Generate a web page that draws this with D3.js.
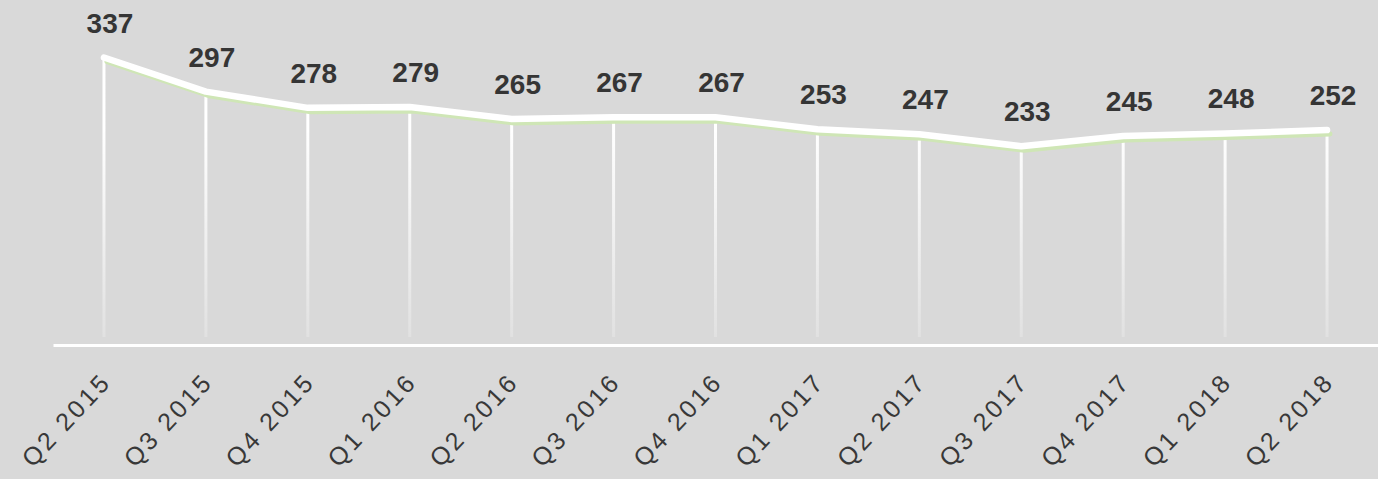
<!DOCTYPE html>
<html lang="en">
<head>
    <meta charset="UTF-8">
    <title>Quarterly values</title>
    <script src="https://d3js.org/d3.v7.min.js"></script>
    <style type="text/css">
        body {
            margin: 0;
            background-color: #d9d9d9;
        }

        .value-label {
            font-family: "Liberation Sans", Arial, sans-serif;
            font-size: 28px;
            font-weight: bold;
            fill: #353535;
            text-anchor: middle;
        }

        .axis text {
            font-family: "Liberation Sans", Arial, sans-serif;
            font-size: 25px;
            letter-spacing: 3px;
            fill: #383838;
        }
    </style>
</head>
<body>
    <script type="text/javascript">
        //CONSTANTS & GLOBALS
        const width = 1378;
        const height = 479;
        const axisY = 345;

        //DATA
        const quarters = ["Q2 2015", "Q3 2015", "Q4 2015", "Q1 2016", "Q2 2016", "Q3 2016", "Q4 2016",
                          "Q1 2017", "Q2 2017", "Q3 2017", "Q4 2017", "Q1 2018", "Q2 2018"];
        const values = [337, 297, 278, 279, 265, 267, 267, 253, 247, 233, 245, 248, 252];

        const data = quarters.map((q, i) => ({ q: q, v: values[i] }));

        //SCALES
        const xScale = d3.scalePoint()
            .domain(quarters)
            .range([53, width])
            .padding(0.5);

        const yScale = d3.scaleLinear()
            .domain([0, 400])
            .range([axisY, axisY - 400 * 0.853]);

        //CREATE SVG
        const svg = d3.select("body")
            .append("svg")
            .attr("width", width)
            .attr("height", height);

        //gradient for the drop lines, fades out towards the axis
        const grad = svg.append("defs")
            .append("linearGradient")
            .attr("id", "dropFade")
            .attr("gradientUnits", "userSpaceOnUse")
            .attr("x1", 0).attr("y1", 130)
            .attr("x2", 0).attr("y2", 340);
        grad.append("stop").attr("offset", "0%").attr("stop-color", "#ffffff").attr("stop-opacity", 1);
        grad.append("stop").attr("offset", "100%").attr("stop-color", "#ffffff").attr("stop-opacity", 0.2);

        //DROP LINES
        svg.selectAll(".drop")
            .data(data)
            .join("line")
            .attr("class", "drop")
            .attr("x1", d => xScale(d.q))
            .attr("x2", d => xScale(d.q) + 0.01)
            .attr("y1", d => yScale(d.v))
            .attr("y2", axisY - 8)
            .attr("stroke", "url(#dropFade)")
            .attr("stroke-width", 3);

        //X-AXIS
        const xAxis = d3.axisBottom(xScale)
            .tickSize(0)
            .tickSizeOuter(0);

        const gx = svg.append("g")
            .attr("class", "axis")
            .attr("transform", "translate(0," + axisY + ")")
            .call(xAxis);

        gx.select(".domain")
            .attr("stroke", "#ffffff")
            .attr("stroke-width", 3);

        gx.selectAll(".tick text")
            .attr("text-anchor", "end")
            .attr("y", 0)
            .attr("dy", 0)
            .attr("transform", "translate(8,38) rotate(-47)");

        //LINE GENERATOR
        const line = d3.line()
            .x(d => xScale(d.q))
            .y(d => yScale(d.v));

        //green shadow under the main line
        svg.append("path")
            .attr("d", line(data))
            .attr("transform", "translate(3,4)")
            .attr("fill", "none")
            .attr("stroke", "#cfe6b6")
            .attr("stroke-width", 5)
            .attr("stroke-linejoin", "round")
            .attr("stroke-linecap", "round");

        svg.append("path")
            .attr("d", line(data))
            .attr("fill", "none")
            .attr("stroke", "#ffffff")
            .attr("stroke-width", 6.5)
            .attr("stroke-linejoin", "round")
            .attr("stroke-linecap", "round");

        //VALUE LABELS
        svg.selectAll(".value-label")
            .data(data)
            .join("text")
            .attr("class", "value-label")
            .attr("x", d => xScale(d.q) + 6)
            .attr("y", d => yScale(d.v) - 25)
            .text(d => d.v);
    </script>
</body>
</html>
